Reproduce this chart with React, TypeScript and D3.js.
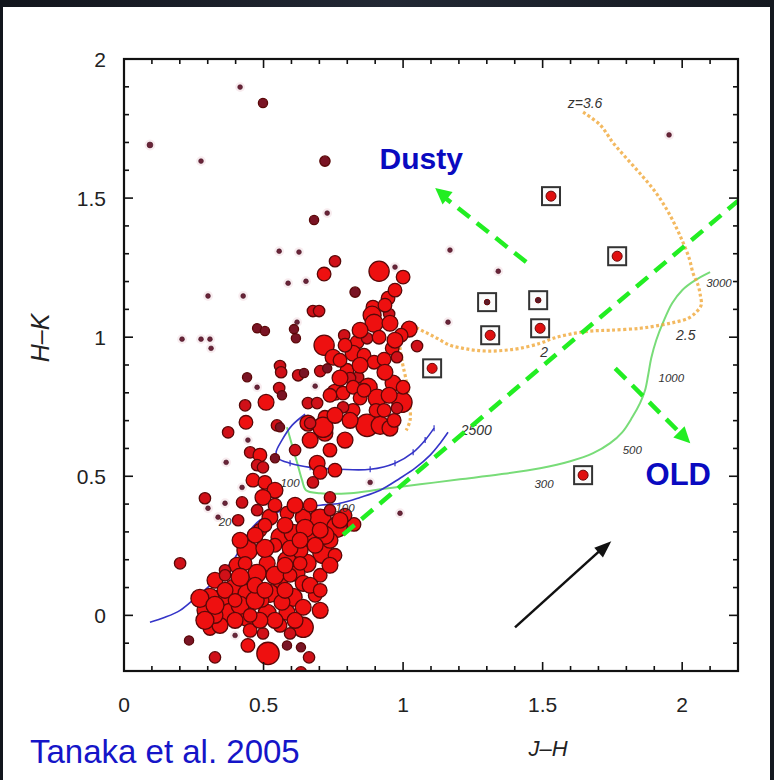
import React from "react";
import * as d3 from "d3";

// ---------- data ----------
const xTicks = [0, 0.5, 1, 1.5, 2];
const yTicks = [0, 0.5, 1, 1.5, 2];
const xTickLabels = ["0", "0.5", "1", "1.5", "2"];
const yTickLabels = ["0", "0.5", "1", "1.5", "2"];

// galaxies: J-H, H-K, brightness class
const galJH = [0.093,0.416,0.498,0.276,0.72,0.728,0.681,0.556,0.627,0.756,0.717,0.914,0.971,1.0,0.588,0.652,0.301,0.427,0.828,0.946,1.953,1.168,1.341,1.161,0.208,0.276,0.308,0.312,0.62,0.477,0.505,0.609,0.616,0.677,0.699,0.892,0.889,0.95,0.896,0.953,1.022,0.993,0.717,0.789,0.835,0.871,0.914,0.961,1.05,0.749,0.821,0.86,0.896,0.932,0.978,0.559,0.563,0.624,0.645,0.703,0.728,0.799,0.839,0.81,0.441,0.477,0.556,0.566,0.685,0.756,0.785,0.821,0.875,0.907,0.846,0.964,0.996,1.0,0.978,0.434,0.509,0.437,0.373,0.548,0.659,0.692,0.659,0.72,0.72,0.871,0.918,0.953,0.821,0.785,0.444,0.613,0.541,0.452,0.487,0.477,0.366,0.462,0.505,0.541,0.498,0.423,0.29,0.301,0.362,0.423,0.409,0.337,0.201,0.308,0.233,0.326,0.444,0.516,0.498,0.398,0.584,0.634,0.663,0.634,0.713,0.692,0.703,0.677,0.559,0.667,0.738,0.882,0.989,0.824,0.498,0.703,0.763,0.523,0.642,0.584,0.477,0.441,0.713,0.559,0.606,0.667,0.513,0.584,0.656,0.62,0.642,0.559,0.477,0.344,0.308,0.391,0.441,0.523,0.606,0.38,0.441,0.513,0.584,0.642,0.642,0.595,0.559,0.452,0.344,0.29,0.326,0.405,0.738,0.703,0.685,0.541,0.631,0.487,0.416,0.738,0.613,0.792,0.362,0.495,0.566,
  0.505,0.577,0.649,0.72,0.774,0.685,0.595,0.505,0.47,0.756,0.667,0.541,0.434,0.362,0.416,0.47,0.577,0.667,0.47,0.541,0.326,0.272,0.398,0.541,0.613,0.487,0.703,0.703,0.595,0.631,0.398,0.738,0.667,0.756,0.774,0.846,0.935,0.774,0.86,0.95,0.81,0.756,0.968,0.792,0.903,0.846,0.935,0.971,
  0.362,0.29,0.505,0.416,0.577,0.703,0.631,0.738,0.452,0.326,0.971,0.792,0.738,0.932];
const galHK = [1.691,1.899,1.842,1.633,1.633,1.446,1.421,1.309,1.306,1.273,1.227,1.237,1.252,1.216,1.194,1.201,1.148,1.148,1.162,1.14,1.727,1.313,1.237,1.054,0.993,0.993,0.993,0.96,1.054,1.032,1.022,1.029,0.996,1.094,1.094,1.108,1.079,1.083,1.05,1.05,1.029,1.007,0.971,1.007,0.982,0.996,1.0,0.96,0.968,0.928,0.942,0.935,0.91,0.921,0.928,0.896,0.874,0.863,0.871,0.878,0.888,0.881,0.856,0.853,0.856,0.82,0.817,0.791,0.824,0.802,0.799,0.82,0.82,0.781,0.781,0.835,0.766,0.82,0.745,0.755,0.766,0.694,0.658,0.683,0.763,0.763,0.691,0.712,0.655,0.683,0.683,0.673,0.737,0.748,0.63,0.594,0.565,0.586,0.576,0.54,0.55,0.486,0.478,0.45,0.424,0.46,0.421,0.385,0.403,0.406,0.342,0.353,0.187,-0.047,-0.09,-0.151,-0.108,-0.137,-0.065,-0.072,-0.108,-0.115,-0.151,-0.205,0.676,0.547,0.514,0.478,0.676,0.691,0.424,0.478,0.367,0.327,0.532,0.342,0.317,0.353,0.353,0.367,0.378,0.234,0.223,0.281,0.295,0.281,0.187,0.198,0.187,0.151,0.115,0.126,0.151,0.054,0.065,0.101,0.079,0.079,0.065,0.007,-0.007,0.007,0.011,0.029,-0.043,-0.065,-0.036,-0.054,-0.036,0.018,0.126,0.18,0.27,0.144,0.072,0.252,0.234,0.306,0.27,0.378,0.396,0.36,0.162,0.054,0.047,
  0.324,0.324,0.313,0.288,0.342,0.252,0.241,0.241,0.288,0.216,0.396,0.396,0.187,0.09,0.036,0.054,0.09,0.108,0.108,0.144,0.0,0.061,-0.018,-0.018,-0.018,-0.018,0.018,0.09,0.144,0.187,0.054,0.594,0.63,0.522,0.917,0.899,0.874,0.853,0.809,0.791,0.701,0.719,0.701,0.63,0.737,1.025,1.115,1.169,
  0.144,-0.018,0.09,0.137,0.18,0.306,0.27,0.18,0.0,0.036,0.989,0.971,0.791,0.737];
const galSize = [2.5,2,4,2,4.5,2,4,2,2,5,6,9,2,6,2,2,2,2,4.5,6,2,2,2,2,2,2,2,2,2,4,4,4,4,5,5,6,8,5,8,7,7,6,9,5,6,5,6,6,5,7,7,6,6,6,5,5,5,5,4,5,4,6,5,5,4,2,5,4,2,7,6,6,8,8,6,7,9,6,5,5,7,6,5,5,5,5,7,6,7,10,8,7,6,5,2,5,4,5,6,5,2,6,6,7,7,2,5,2,2,5,5,2,5,6,4,5,6,10,5,2,4,4,5,5,9,7,6,5,4,5,5,2,2,6,5,10,9,7,7,6,5,9,9,8,8,7,7,8,8,7,7,7,8,9,8,7,8,8,8,9,8,8,7,7,9,5,6,6,7,7,7,7,7,6,6,6,7,6,7,5,7,6,5,6,7,6,
  7,8,8,7,7,7,8,7,6,6,6,6,7,8,8,7,7,7,8,7,8,7,7,7,7,7,6,6,6,6,6,7,6,6,7,7,7,6,7,7,7,6,7,6,7,6,6,5,
  8,7,8,7,7,7,7,6,8,7,6,6,6,7];

// boxed objects
const boxJH = [1.53, 1.767, 1.301, 1.484, 1.312, 1.491, 1.104, 1.645];
const boxHK = [1.507, 1.291, 1.126, 1.133, 1.007, 1.032, 0.888, 0.504];
const boxFaint = [false, false, true, true, false, false, false, false];

// evolutionary tracks
const orangeJH = [1.645,1.706,1.753,1.806,1.86,1.907,1.946,1.978,2.004,2.025,2.039,2.057,2.065,2.068,2.05,2.022,1.975,1.921,1.849,1.742,1.67,1.599,1.538,1.491,1.419,1.366,1.312,1.258,1.215,1.168,1.122,1.079,1.036,1.007,0.989,0.996,1.011,1.022,1.025,1.011];
const orangeHK = [1.809,1.763,1.698,1.637,1.576,1.518,1.457,1.396,1.338,1.284,1.23,1.187,1.151,1.115,1.09,1.068,1.054,1.043,1.032,1.025,1.022,1.011,0.996,0.978,0.96,0.953,0.95,0.953,0.96,0.971,0.996,1.018,1.036,1.025,0.989,0.917,0.845,0.773,0.701,0.665];
const greenJH = [0.584,0.602,0.62,0.638,0.652,0.703,0.81,0.918,1.061,1.204,1.348,1.491,1.599,1.681,1.742,1.785,1.821,1.849,1.867,1.878,1.889,1.907,1.932,1.964,2.0,2.047,2.1];
const greenHK = [0.676,0.612,0.55,0.486,0.45,0.439,0.439,0.453,0.471,0.489,0.507,0.529,0.554,0.583,0.619,0.658,0.712,0.763,0.809,0.863,0.924,0.989,1.054,1.122,1.169,1.205,1.234];
const blueAJH = [0.649,0.602,0.566,0.545,0.552,0.595,0.667,0.774,0.882,0.971,1.036,1.079,1.111];
const blueAHK = [0.723,0.683,0.63,0.586,0.565,0.547,0.532,0.525,0.525,0.547,0.586,0.63,0.673];
const blueBJH = [0.093,0.147,0.201,0.254,0.308,0.351,0.391,0.423,0.452,0.487,0.523,0.577,0.631,0.703,0.774,0.846,0.918,0.989,1.043,1.097,1.133,1.161];
const blueBHK = [-0.025,-0.007,0.018,0.061,0.108,0.155,0.198,0.252,0.306,0.342,0.363,0.378,0.388,0.396,0.403,0.424,0.45,0.493,0.529,0.576,0.619,0.658];

// track labels
const trackLabelText = ["z=3.6", "3000", "2.5", "2", "1000", "500", "300", "2500", "100", "100", "20"];
const trackLabelJH = [1.652, 2.086, 1.978, 1.505, 1.961, 1.821, 1.505, 1.262, 0.595, 0.792, 0.362];
const trackLabelHK = [1.842, 1.194, 1.007, 0.946, 0.853, 0.594, 0.471, 0.665, 0.475, 0.385, 0.335];
const trackLabelAnchor = ["middle", "start", "start", "middle", "middle", "middle", "middle", "middle", "middle", "middle", "middle"];

// annotation lines
const divideJH = [0.785, 2.2];
const divideHK = [0.29, 1.49];
const dustyJH = [1.441, 1.115];
const dustyHK = [1.27, 1.536];
const oldJH = [1.76, 2.029];
const oldHK = [0.888, 0.619];
const redJH = [1.401, 1.746];
const redHK = [-0.043, 0.266];

const W = 774, H = 780;
const L = 124, R = 738, T = 59, B = 671;

export default function App() {
  const x = d3.scaleLinear().domain([0, 2.2]).range([L, R]);
  const y = d3.scaleLinear().domain([-0.2, 2]).range([B, T]);
  const rScale = d3.scaleLinear().domain([2, 10]).range([2.4, 11.2]);
  const line = d3.line<[number, number]>().x((d) => x(d[0])).y((d) => y(d[1])).curve(d3.curveCatmullRom);
  const zip = (a: number[], b: number[]) => a.map((v, i) => [v, b[i]] as [number, number]);

  const minorX = d3.range(0, 23).map((i) => i / 10);
  const minorY = d3.range(-2, 21).map((i) => i / 10);
  const isMajor = (v: number) => Math.abs(v * 2 - Math.round(v * 2)) < 1e-6;

  const gal = galJH.map((v, i) => ({ jh: v, hk: galHK[i], s: galSize[i] }));
  const fillFor = (s: number) => (s <= 2.5 ? "#6a2438" : s <= 4.5 ? "#7a1424" : s <= 5 ? "#d01018" : "#ee1010");
  const strokeFor = (s: number) => (s <= 2.5 ? "#4a1828" : "#5a0808");

  const arrowHead = (x0: number, y0: number, x1: number, y1: number, len: number, wid: number) => {
    const dx = x1 - x0, dy = y1 - y0;
    const d = Math.hypot(dx, dy);
    const ux = dx / d, uy = dy / d;
    const bx = x1 - ux * len, by = y1 - uy * len;
    return `M${x1},${y1} L${bx - uy * wid},${by + ux * wid} L${bx + uy * wid},${by - ux * wid} Z`;
  };

  const font = "'Liberation Sans', Arial, Helvetica, sans-serif";

  return (
    <svg width={W} height={H} style={{ position: "absolute", left: 0, top: 0 }}>
      <defs>
        <linearGradient id="bg" x1="0" x2="1" y1="0" y2="0">
          <stop offset="0" stopColor="#12151c" />
          <stop offset="0.5" stopColor="#222834" />
          <stop offset="1" stopColor="#151920" />
        </linearGradient>
        <clipPath id="plotClip">
          <rect x={L} y={T} width={R - L} height={B - T} />
        </clipPath>
      </defs>
      <rect x={0} y={0} width={W} height={H} fill="url(#bg)" />
      <rect x={3} y={7} width={767} height={H - 7} fill="#ffffff" />

      <g clipPath="url(#plotClip)">
        {/* tracks */}
        <path d={line(zip(greenJH, greenHK)) || ""} fill="none" stroke="#78dc78" strokeWidth={2} />
        <path d={line(zip(orangeJH, orangeHK)) || ""} fill="none" stroke="#f0a838" strokeWidth={3.2} strokeDasharray="3 2.5" opacity={0.8} />
        <path d={line(zip(blueAJH, blueAHK)) || ""} fill="none" stroke="#3535c8" strokeWidth={1.6} />
        <path d={line(zip(blueBJH, blueBHK)) || ""} fill="none" stroke="#3535c8" strokeWidth={1.6} />
        {blueAJH.slice(5).map((v, i) => (
          <line key={"ba" + i} x1={x(v)} x2={x(v)} y1={y(blueAHK[i + 5]) - 3} y2={y(blueAHK[i + 5]) + 3} stroke="#3535c8" strokeWidth={1.2} />
        ))}

        {/* galaxies */}
        {gal.map((g, i) =>
          g.s <= 2.5 ? (
            <circle key={"h" + i} cx={x(g.jh)} cy={y(g.hk)} r={rScale(g.s) + 2.5} fill="#f8ecef" />
          ) : null
        )}
        {gal.map((g, i) => (
          <circle key={"g" + i} cx={x(g.jh)} cy={y(g.hk)} r={rScale(g.s)} fill={fillFor(g.s)} stroke={strokeFor(g.s)} strokeWidth={g.s > 2.5 ? 1.3 : 0.6} />
        ))}

        {/* boxed objects */}
        {boxJH.map((v, i) => (
          <g key={"b" + i}>
            <rect x={x(v) - 9} y={y(boxHK[i]) - 9} width={18} height={18} fill="#fbfbfb" stroke="#333" strokeWidth={2} />
            <circle cx={x(v)} cy={y(boxHK[i])} r={boxFaint[i] ? 2.8 : 5} fill={boxFaint[i] ? "#5a1a2a" : "#e01010"} stroke="#6a0808" strokeWidth={1} />
          </g>
        ))}

        {/* track labels */}
        {trackLabelText.map((t, i) => (
          <text key={"tl" + i} x={x(trackLabelJH[i])} y={y(trackLabelHK[i])} dy="0.35em" textAnchor={trackLabelAnchor[i] as any}
            fontFamily={font} fontStyle="italic" fontSize={i === 0 || i === 7 || i === 2 || i === 3 ? 14 : 11.5} fill="#333">{t}</text>
        ))}

        {/* green dashed annotations */}
        <line x1={x(divideJH[0])} y1={y(divideHK[0])} x2={x(divideJH[1])} y2={y(divideHK[1])} stroke="#22ee22" strokeWidth={4.5} strokeDasharray="15 9" />
        <line x1={x(dustyJH[0])} y1={y(dustyHK[0])} x2={x(dustyJH[1]) + 9} y2={y(dustyHK[1]) + 9} stroke="#22ee22" strokeWidth={4.5} strokeDasharray="15 9" />
        <path d={arrowHead(x(dustyJH[0]), y(dustyHK[0]), x(dustyJH[1]), y(dustyHK[1]), 16, 8)} fill="#22ee22" />
        <line x1={x(oldJH[0])} y1={y(oldHK[0])} x2={x(oldJH[1]) - 9} y2={y(oldHK[1]) - 9} stroke="#22ee22" strokeWidth={4.5} strokeDasharray="15 9" />
        <path d={arrowHead(x(oldJH[0]), y(oldHK[0]), x(oldJH[1]), y(oldHK[1]), 16, 8)} fill="#22ee22" />

        {/* reddening vector */}
        <line x1={x(redJH[0])} y1={y(redHK[0])} x2={x(redJH[1]) - 10} y2={y(redHK[1]) + 8} stroke="#111" strokeWidth={2.5} />
        <path d={arrowHead(x(redJH[0]), y(redHK[0]), x(redJH[1]), y(redHK[1]), 17, 6.5)} fill="#111" />
      </g>

      {/* frame and ticks */}
      <rect x={L} y={T} width={R - L} height={B - T} fill="none" stroke="#111" strokeWidth={2.2} />
      {minorX.map((v, i) => {
        const len = isMajor(v) ? 9 : 5;
        return (
          <g key={"tx" + i}>
            <line x1={x(v)} x2={x(v)} y1={B} y2={B - len} stroke="#111" strokeWidth={1.6} />
            <line x1={x(v)} x2={x(v)} y1={T} y2={T + len} stroke="#111" strokeWidth={1.6} />
          </g>
        );
      })}
      {minorY.map((v, i) => {
        const len = isMajor(v) ? 9 : 5;
        return (
          <g key={"ty" + i}>
            <line x1={L} x2={L + len} y1={y(v)} y2={y(v)} stroke="#111" strokeWidth={1.6} />
            <line x1={R} x2={R - len} y1={y(v)} y2={y(v)} stroke="#111" strokeWidth={1.6} />
          </g>
        );
      })}
      {xTicks.map((v, i) => (
        <text key={"xl" + i} x={x(v)} y={712} textAnchor="middle" fontFamily={font} fontSize={21} fill="#222">{xTickLabels[i]}</text>
      ))}
      {yTicks.map((v, i) => (
        <text key={"yl" + i} x={106} y={y(v)} dy="0.36em" textAnchor="end" fontFamily={font} fontSize={21} fill="#222">{yTickLabels[i]}</text>
      ))}

      {/* axis titles */}
      <text x={548} y={756} textAnchor="middle" fontFamily={font} fontStyle="italic" fontSize={22} fill="#222">J–H</text>
      <text transform="translate(49,338) rotate(-90)" textAnchor="middle" fontFamily={font} fontStyle="italic" fontSize={25} fill="#222">H–K</text>

      {/* annotations */}
      <text x={x(1.065)} y={y(1.644)} dy="0.36em" textAnchor="middle" fontFamily={font} fontWeight="bold" fontSize={30} fill="#0a0ac0">Dusty</text>
      <text x={x(1.986)} y={y(0.507)} dy="0.36em" textAnchor="middle" fontFamily={font} fontWeight="bold" fontSize={31} fill="#0a0ac0">OLD</text>
      <text x={30} y={763} fontFamily={font} fontSize={33} fill="#1515c8">Tanaka et al. 2005</text>
    </svg>
  );
}
